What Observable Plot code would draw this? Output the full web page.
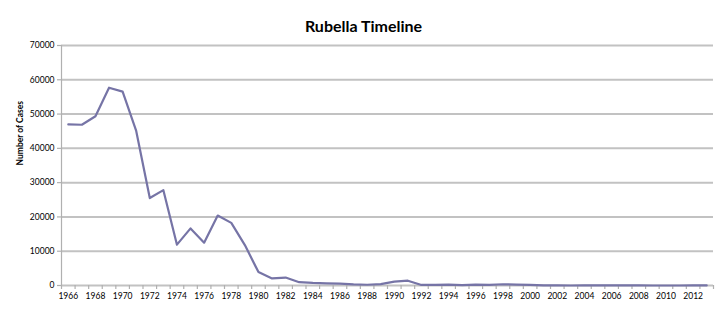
<!DOCTYPE html>
<html>
<head>
<meta charset="utf-8">
<script src="https://cdn.jsdelivr.net/npm/d3@7"></script>
<script src="https://cdn.jsdelivr.net/npm/@observablehq/plot@0.6"></script>
<style>
  html, body { margin: 0; padding: 0; background: #fff; }
  #chart svg { display: block; }
</style>
</head>
<body>
<div id="chart"></div>
<script>
const years = [1966,1967,1968,1969,1970,1971,1972,1973,1974,1975,1976,1977,1978,1979,1980,1981,1982,1983,1984,1985,1986,1987,1988,1989,1990,1991,1992,1993,1994,1995,1996,1997,1998,1999,2000,2001,2002,2003,2004,2005,2006,2007,2008,2009,2010,2011,2012,2013];
const cases = [46975,46888,49371,57686,56552,45086,25507,27804,11917,16652,12491,20395,18269,11795,3904,2077,2325,970,752,630,551,306,225,396,1125,1401,160,192,227,128,238,181,364,267,176,23,18,7,10,11,11,12,16,3,5,4,9,9];
const yTicks = [0,10000,20000,30000,40000,50000,60000,70000];
const xLabels = [1966,1968,1970,1972,1974,1976,1978,1980,1982,1984,1986,1988,1990,1992,1994,1996,1998,2000,2002,2004,2006,2008,2010,2012];
const title = "Rubella Timeline";
const yLabel = "Number of Cases";

const data = years.map((y, i) => ({year: y, cases: cases[i]}));
const boundaries = years.map(y => y - 0.5).concat([years[years.length - 1] + 0.5]);

const font = "Lato, 'Open Sans', sans-serif";
const gridColor = "#c2c2c2";

const chart = Plot.plot({
  width: 728,
  height: 310,
  marginLeft: 61,
  marginRight: 15,
  marginTop: 45,
  marginBottom: 25,
  style: {fontFamily: font, fontSize: "8.5px", color: "#000", background: "#fff"},
  x: {domain: [boundaries[0], boundaries[boundaries.length - 1]]},
  y: {domain: [0, 70000]},
  marks: [
    Plot.gridY(yTicks, {stroke: gridColor, strokeWidth: 2, strokeOpacity: 1}),
    Plot.ruleX([boundaries[0]], {stroke: "#b0b0b0", strokeWidth: 1.2}),
    Plot.axisY(yTicks, {tickSize: 4, tickPadding: 3, stroke: "#b0b0b0", strokeWidth: 1.2, tickFormat: d => String(d), label: null, fill: "#000"}),
    Plot.axisX(boundaries, {tickSize: 4, stroke: "#b0b0b0", strokeWidth: 1.2, tickFormat: () => "", label: null}),
    Plot.axisX(xLabels, {tickSize: 0, tickPadding: 7, tickFormat: d => String(d), label: null, fill: "#000"}),
    Plot.line(data, {x: "year", y: "cases", stroke: "#7674a6", strokeWidth: 2.2}),
    Plot.text([title], {frameAnchor: "top", dy: -25, dx: -24, fontSize: 16, fontWeight: "bold", fill: "#000"}),
    Plot.text([yLabel], {frameAnchor: "left", dx: -41, rotate: -90, fontSize: 8.5, fontWeight: "bold", fill: "#000"})
  ]
});
document.getElementById("chart").appendChild(chart);
</script>
</body>
</html>
